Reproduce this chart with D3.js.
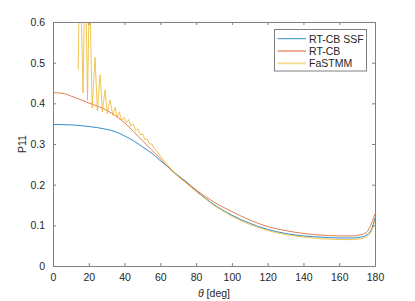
<!DOCTYPE html>
<html><head><meta charset="utf-8">
<script src="https://cdn.jsdelivr.net/npm/d3@7"></script>
<style>body{margin:0;background:#fff;} svg{display:block;font-family:"Liberation Sans",Arial,sans-serif;}</style>
</head><body><svg id="c" width="415" height="301"></svg>
<script>
const xTicks = [0,20,40,60,80,100,120,140,160,180];
const yTicks = [0,0.1,0.2,0.3,0.4,0.5,0.6];
const seriesNames = ["RT-CB SSF","RT-CB","FaSTMM"];
const seriesColors = ["#0072BD","#D95319","#EDB120"];

const ssfTheta = [0,10,20,30,35,40,45,50,55,60,65,70,74,80,90,100,110,120,130,140,150,160,168,172,175,177,178,179,180];
const ssfP11   = [0.348,0.347,0.343,0.336,0.330,0.320,0.308,0.293,0.278,0.259,0.241,0.222,0.209,0.185,0.151,0.125,0.105,0.090,0.080,0.074,0.071,0.069,0.069,0.071,0.075,0.083,0.090,0.102,0.118];

const cbTheta = [0,5,10,20,30,40,50,60,66,70,80,90,100,110,120,130,140,150,160,168,172,175,177,178,179,180];
const cbP11   = [0.426,0.425,0.418,0.401,0.383,0.352,0.308,0.264,0.236,0.221,0.187,0.157,0.134,0.113,0.097,0.087,0.080,0.076,0.074,0.074,0.077,0.082,0.095,0.104,0.116,0.128];

const fsTheta = [14.1,15.0,16.8,18.0,19.3,20.4,21.9,23.5,24.8,26.3,27.6,29.1,30.4,31.9,33.4,34.7,35.9,37.1,38.4,39.7,41.0,42.3,43.6,44.9,46.2,47.5,48.8,50.1,51.4,52.7,54.0,55.3,56.6,58,60,63,66,70,80,90,100,110,120,130,140,150,160,168,172,175,177,178,179,180];
const fsP11   = [0.482,0.78,0.426,0.76,0.408,0.70,0.388,0.513,0.382,0.470,0.379,0.433,0.375,0.408,0.371,0.390,0.366,0.379,0.357,0.366,0.352,0.360,0.344,0.350,0.333,0.337,0.322,0.325,0.311,0.313,0.300,0.300,0.288,0.284,0.270,0.254,0.238,0.220,0.183,0.149,0.122,0.102,0.087,0.077,0.071,0.067,0.065,0.065,0.067,0.071,0.078,0.086,0.097,0.112];

const svg = d3.select("#c");
const L=53, R=375, T=22, B=266;
const x = d3.scaleLinear().domain([0,180]).range([L,R]);
const y = d3.scaleLinear().domain([0,0.6]).range([B,T]);
const axisCol = "#808080", txtCol = "#262626";

svg.append("defs").append("clipPath").attr("id","clip")
  .append("rect").attr("x",L).attr("y",T).attr("width",R-L).attr("height",B-T);

const series = [
  {theta:ssfTheta, v:ssfP11, op:0.8},
  {theta:cbTheta, v:cbP11, op:0.75},
  {theta:fsTheta, v:fsP11, op:0.75}
];
const g = svg.append("g").attr("clip-path","url(#clip)");
series.forEach((s,i)=>{
  const pts = s.theta.map((t,k)=>[t,s.v[k]]);
  const ln = d3.line().x(d=>x(d[0])).y(d=>y(d[1])).curve(i===2? d3.curveLinear : d3.curveMonotoneX);
  g.append("path").attr("d",ln(pts)).attr("fill","none")
    .attr("stroke",seriesColors[i]).attr("stroke-width",1).attr("stroke-opacity",s.op);
});

// axes
const xb = svg.append("g").attr("transform",`translate(0,${B})`)
  .call(d3.axisBottom(x).tickValues(xTicks).tickSize(-3).tickPadding(8).tickFormat(d3.format("d")));
const xt = svg.append("g").attr("transform",`translate(0,${T})`)
  .call(d3.axisTop(x).tickValues(xTicks).tickSize(-3).tickFormat(""));
const yl = svg.append("g").attr("transform",`translate(${L},0)`)
  .call(d3.axisLeft(y).tickValues(yTicks).tickSize(-3).tickPadding(8).tickFormat(d=>d===0?"0":d3.format(".1f")(d)));
const yr = svg.append("g").attr("transform",`translate(${R},0)`)
  .call(d3.axisRight(y).tickValues(yTicks).tickSize(-3).tickFormat(""));
[xb,xt,yl,yr].forEach(a=>{
  a.selectAll("path.domain").attr("stroke",axisCol);
  a.selectAll("line").attr("stroke",axisCol);
  a.selectAll("text").attr("fill",txtCol).attr("font-size","10.5px").attr("font-family","Liberation Sans, Arial, sans-serif");
});

// labels
const xl = svg.append("text").attr("x",(L+R)/2).attr("y",297).attr("text-anchor","middle")
  .attr("font-size","10.5px").attr("fill",txtCol);
xl.append("tspan").attr("font-style","italic").text("θ");
xl.append("tspan").text(" [deg]");
svg.append("text").attr("transform",`translate(25.5,${(T+B)/2}) rotate(-90)`).attr("text-anchor","middle")
  .attr("font-size","10.5px").attr("fill",txtCol).text("P11");

// legend
const lg = svg.append("g");
lg.append("rect").attr("x",274.5).attr("y",29.5).attr("width",92).attr("height",41.5)
  .attr("fill","#fff").attr("stroke",axisCol).attr("stroke-width",1);
const legOp=[0.8,0.45,0.45], legW=[1,2,2];
seriesNames.forEach((n,i)=>{
  const yy = 38.7 + i*12.3;
  lg.append("line").attr("x1",277.5).attr("x2",306).attr("y1",yy).attr("y2",yy)
    .attr("stroke",seriesColors[i]).attr("stroke-width",legW[i]).attr("stroke-opacity",legOp[i]);
  lg.append("text").attr("x",309).attr("y",yy+3.8).attr("font-size","10.5px").attr("fill",txtCol).text(n);
});
</script></body></html>
